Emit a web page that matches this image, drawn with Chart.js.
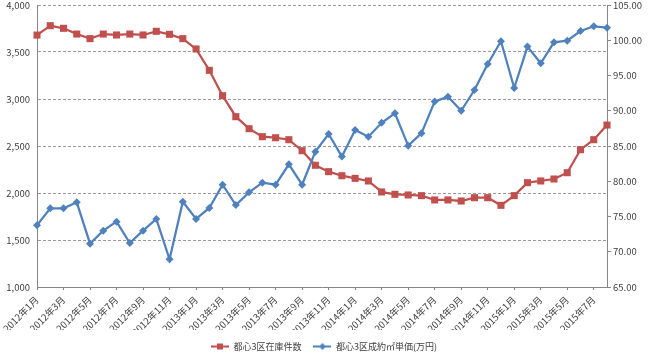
<!DOCTYPE html>
<html>
<head>
<meta charset="utf-8">
<script src="https://cdn.jsdelivr.net/npm/chart.js@4"></script>
<style>
  html, body { margin: 0; padding: 0; background: #fff; }
  #wrap { width: 648px; height: 361px; }
</style>
</head>
<body>
<div id="wrap"><canvas id="chart" width="648" height="361"></canvas></div>
<script>
// months, 2012/1 .. 2015/8
const months = [
  '2012年1月', '2012年2月', '2012年3月', '2012年4月', '2012年5月', '2012年6月',
  '2012年7月', '2012年8月', '2012年9月', '2012年10月', '2012年11月', '2012年12月',
  '2013年1月', '2013年2月', '2013年3月', '2013年4月', '2013年5月', '2013年6月',
  '2013年7月', '2013年8月', '2013年9月', '2013年10月', '2013年11月', '2013年12月',
  '2014年1月', '2014年2月', '2014年3月', '2014年4月', '2014年5月', '2014年6月',
  '2014年7月', '2014年8月', '2014年9月', '2014年10月', '2014年11月', '2014年12月',
  '2015年1月', '2015年2月', '2015年3月', '2015年4月', '2015年5月', '2015年6月',
  '2015年7月', '2015年8月'
];

// 在庫件数 (left axis)
const stockCount = [
  3680, 3780, 3752, 3691, 3642, 3691, 3681, 3691, 3681, 3720, 3688, 3642,
  3532, 3305, 3035, 2812, 2684, 2599, 2588, 2567, 2450, 2295, 2227, 2184,
  2156, 2128, 2011, 1986, 1979, 1972, 1926, 1926, 1915, 1950, 1950, 1869,
  1972, 2110, 2128, 2149, 2216, 2461, 2567, 2723
];

// 成約㎡単価 万円 (right axis)
const unitPrice = [
  73.75, 76.16, 76.16, 77.01, 71.15, 72.99, 74.27, 71.24, 72.99, 74.65, 68.93, 77.10,
  74.65, 76.21, 79.51, 76.63, 78.43, 79.80, 79.51, 82.40, 79.51, 84.20, 86.70, 83.50,
  87.27, 86.32, 88.30, 89.63, 85.05, 86.80, 91.30, 92.00, 90.00, 92.94, 96.63, 99.85,
  93.23, 99.10, 96.73, 99.70, 99.94, 101.31, 101.98, 101.78
];

const leftTicks = { min: 1000, max: 4000, step: 500 };
const rightTicks = { min: 65, max: 105, step: 5 };

const RED = '#C0504D';
const BLUE = '#4F81BD';
const AXIS = '#868686';
const TEXT = '#404040';
const FONT = "'Noto Sans CJK JP', 'Noto Sans', sans-serif";

// small legend swatch: line with marker, like the spreadsheet legend
function swatch(color, shape) {
  const c = document.createElement('canvas');
  c.width = 18; c.height = 10;
  const g = c.getContext('2d');
  g.strokeStyle = color;
  g.lineWidth = 2;
  g.beginPath(); g.moveTo(0, 5); g.lineTo(18, 5); g.stroke();
  g.fillStyle = color;
  g.beginPath();
  if (shape === 'rect') {
    g.rect(6, 2, 6, 6);
  } else {
    g.moveTo(9, 1.5); g.lineTo(12.5, 5); g.lineTo(9, 8.5); g.lineTo(5.5, 5); g.closePath();
  }
  g.fill();
  return c;
}

// keep the plot box where the spreadsheet had it
const yAxisFit = (width) => (scale) => {
  scale.width = width;
  scale.paddingTop = 5;
  scale.paddingBottom = 0;
};

const ctx = document.getElementById('chart').getContext('2d');
new Chart(ctx, {
  type: 'line',
  data: {
    labels: months,
    datasets: [
      {
        label: '都心3区在庫件数',
        data: stockCount,
        yAxisID: 'y',
        borderColor: RED,
        backgroundColor: RED,
        borderWidth: 2.25,
        pointStyle: 'rect',
        pointRadius: 5,
        pointBorderWidth: 0,
        order: 2,
        legendSwatch: swatch(RED, 'rect')
      },
      {
        label: '都心3区成約㎡単価(万円)',
        data: unitPrice,
        yAxisID: 'y1',
        borderColor: BLUE,
        backgroundColor: BLUE,
        borderWidth: 2.25,
        pointStyle: 'rectRot',
        pointRadius: 4,
        pointBorderWidth: 0,
        order: 1,
        legendSwatch: swatch(BLUE, 'diamond')
      }
    ]
  },
  options: {
    responsive: false,
    animation: false,
    layout: { padding: 0 },
    plugins: {
      tooltip: { enabled: false },
      legend: {
        position: 'bottom',
        labels: {
          color: TEXT,
          font: { family: FONT, size: 9 },
          usePointStyle: true,
          pointStyleWidth: 18,
          padding: 12,
          sort: (a, b) => a.datasetIndex - b.datasetIndex,
          generateLabels: (chart) => chart.data.datasets.map((ds, i) => ({
            text: ds.label,
            pointStyle: ds.legendSwatch,
            fillStyle: ds.borderColor,
            strokeStyle: ds.borderColor,
            lineWidth: 0,
            fontColor: TEXT,
            datasetIndex: i
          }))
        }
      }
    },
    scales: {
      x: {
        offset: false,
        grid: { drawOnChartArea: false, drawTicks: true, tickLength: 3, color: AXIS },
        border: { color: AXIS, width: 1 },
        ticks: {
          autoSkip: false,
          maxRotation: 45,
          minRotation: 45,
          padding: 4,
          color: TEXT,
          font: { family: FONT, size: 9.5 },
          callback: function (value, index) {
            return index % 2 === 0 ? this.getLabelForValue(value) : null;
          }
        },
        afterFit: (scale) => { scale.height = 43; }
      },
      y: {
        position: 'left',
        min: leftTicks.min,
        max: leftTicks.max,
        grid: {
          color: '#9a9a9a',
          drawTicks: false
        },
        border: { color: AXIS, width: 1, dash: [3, 2] },
        ticks: {
          stepSize: leftTicks.step,
          padding: 7,
          color: TEXT,
          font: { family: FONT, size: 9.5 },
          callback: (v) => v.toLocaleString('en-US')
        },
        afterFit: yAxisFit(37)
      },
      y1: {
        position: 'right',
        min: rightTicks.min,
        max: rightTicks.max,
        grid: { drawOnChartArea: false, drawTicks: true, tickLength: 4, color: AXIS },
        border: { color: AXIS, width: 1 },
        ticks: {
          stepSize: rightTicks.step,
          padding: 2,
          color: TEXT,
          font: { family: FONT, size: 9.5 },
          callback: (v) => v.toFixed(2)
        },
        afterFit: yAxisFit(41)
      }
    }
  }
});
</script>
</body>
</html>
